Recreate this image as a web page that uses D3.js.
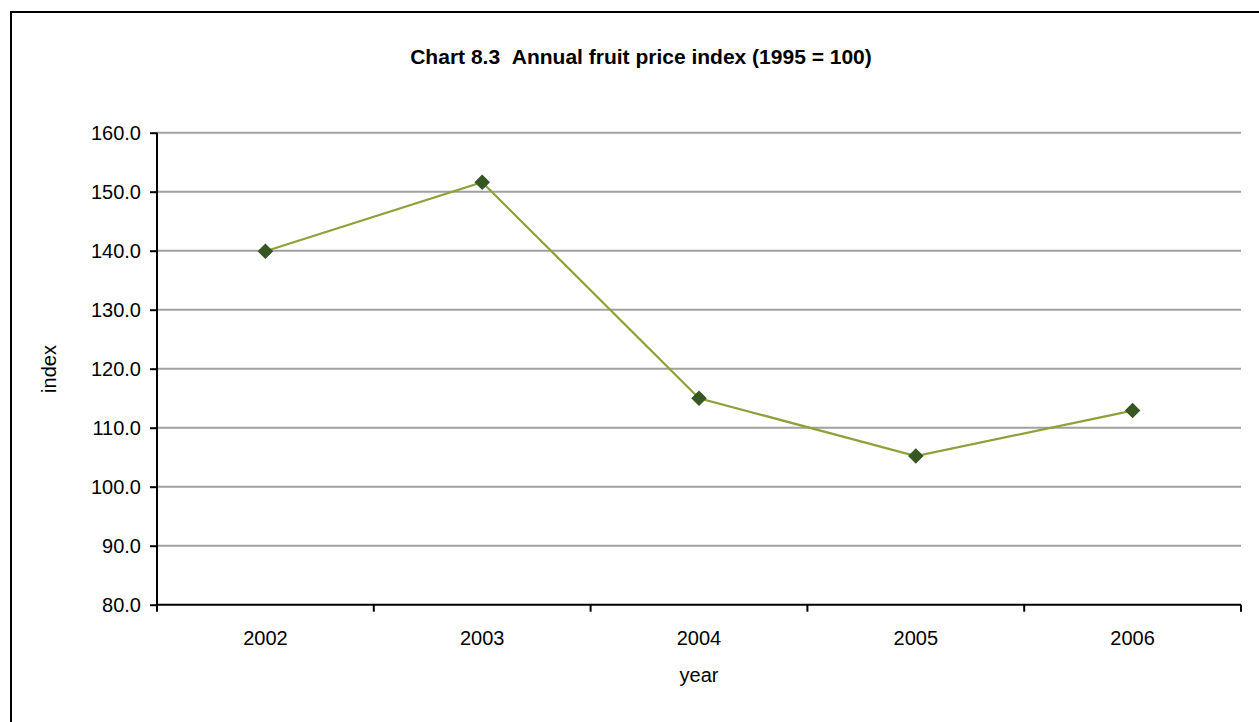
<!DOCTYPE html>
<html><head><meta charset="utf-8">
<script src="https://cdn.jsdelivr.net/npm/d3@7"></script>
<style>body{margin:0;background:#fff;}svg{display:block;font-family:"Liberation Sans",Arial,sans-serif;}</style>
</head><body>
<svg id="chart" width="1259" height="722"></svg>
<script>
const years = ["2002","2003","2004","2005","2006"];
const values = [139.9, 151.6, 115.0, 105.2, 112.9];
const yTicks = [80,90,100,110,120,130,140,150,160];
const title = "Chart 8.3\u00a0\u00a0Annual fruit price index (1995 = 100)";

const svg = d3.select("#chart");
const FS = 20;
svg.append("rect").attr("x",11).attr("y",12).attr("width",1270).attr("height",730)
  .attr("fill","none").attr("stroke","#000").attr("stroke-width",2);

const L=157, R=1241, T=132.7, B=604.7;
const x = d3.scaleBand().domain(years).range([L,R]);
const y = d3.scaleLinear().domain([80,160]).range([B,T]);

svg.append("text").attr("x",641).attr("y",64).attr("text-anchor","middle")
  .attr("font-weight","bold").attr("font-size",21).text(title);

svg.append("g").selectAll("line").data(yTicks.filter(d=>d>80)).join("line")
  .attr("x1",L).attr("x2",R).attr("y1",d=>y(d)).attr("y2",d=>y(d))
  .attr("stroke","#a0a0a0").attr("stroke-width",2);

const ya = svg.append("g").attr("transform",`translate(${L},0)`)
  .call(d3.axisLeft(y).tickValues(yTicks).tickFormat(d3.format(".1f")).tickSize(7).tickPadding(9));
ya.select(".domain").attr("stroke","#000").attr("stroke-width",2).attr("d",`M0,${T}V${B}`);
ya.selectAll(".tick line").attr("stroke","#000").attr("stroke-width",2);
ya.selectAll("text").attr("font-size",FS).attr("fill","#000").attr("font-family","Liberation Sans, Arial, sans-serif");

const xa = svg.append("g").attr("transform",`translate(0,${B})`);
xa.append("line").attr("x1",L).attr("x2",R).attr("y1",0).attr("y2",0).attr("stroke","#000").attr("stroke-width",2);
const edges = years.map(d=>x(d)).concat([R]);
xa.selectAll("line.tk").data(edges).join("line").attr("class","tk")
  .attr("x1",d=>d).attr("x2",d=>d).attr("y1",0).attr("y2",7).attr("stroke","#000").attr("stroke-width",2);
xa.selectAll("text").data(years).join("text")
  .attr("x",d=>x(d)+x.bandwidth()/2).attr("y",40).attr("text-anchor","middle")
  .attr("font-size",FS).text(d=>d);

svg.append("text").attr("x",699).attr("y",682).attr("text-anchor","middle").attr("font-size",FS).text("year");
svg.append("text").attr("transform","translate(56,369) rotate(-90)").attr("text-anchor","middle").attr("font-size",FS).text("index");

const pts = years.map((d,i)=>[x(d)+x.bandwidth()/2, y(values[i])]);
svg.append("path").attr("d",d3.line()(pts)).attr("fill","none").attr("stroke","#8da03a").attr("stroke-width",2.2);
svg.append("g").selectAll("path").data(pts).join("path")
  .attr("transform",d=>`translate(${d[0]},${d[1]}) rotate(45)`)
  .attr("d","M-5,-5H5V5H-5Z").attr("fill","#375623").attr("stroke","#375623").attr("stroke-width",1);
</script>
</body></html>
